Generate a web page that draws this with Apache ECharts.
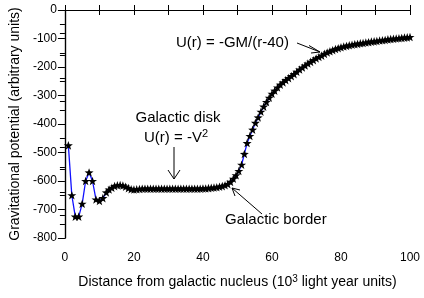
<!DOCTYPE html>
<html>
<head>
<meta charset="utf-8">
<script src="https://cdn.jsdelivr.net/npm/echarts@6/dist/echarts.min.js"></script>
<style>
html,body{margin:0;padding:0;background:#fff;}
#chart{width:424px;height:298px;}
</style>
</head>
<body>
<div id="chart"></div>
<script>
// distance from nucleus (10^3 ly) and potential
var distance = [1,2,3,4,5,6,7,8,9,10,11,
    12,12.8,13.6,14.4,15.2,16,16.8,17.6,18.4,19.2,20,20.8,21.6,22.4,23.2,24,24.8,25.6,26.4,27.2,
    28,28.8,29.6,30.4,31.2,32,32.8,33.6,34.4,35.2,36,36.8,37.6,38.4,39.2,40,40.8,41.6,42.4,43.2,
    44,44.8,45.6,46.4,47.2,48,48.8,49.6,50.4,51.2,52,52.8,53.6,54.4,55.2,56,56.8,57.6,58.4,59.2,
    60,60.8,61.6,62.4,63.2,64,64.8,65.6,66.4,67.2,68,68.8,69.6,70.4,71.2,72,72.8,73.6,74.4,75.2,
    76,76.8,77.6,78.4,79.2,80,80.8,81.6,82.4,83.2,84,84.8,85.6,86.4,87.2,88,88.8,89.6,90.4,91.2,
    92,92.8,93.6,94.4,95.2,96,96.8,97.6,98.4,99.2,100];
var potential = [-475,-650,-725,-725,-680,-600,-570,-600,-665,-670,-660,
    -640,-630,-624,-618,-615,-614,-616,-620,-625,-629,-630,-629,-628,-627,-627,-627,-627,-627,-627,-627,
    -627,-627,-627,-627,-627,-627,-627,-627,-627,-627,-627,-627,-627,-627,-627,-626,-626,-625,-624,-623,
    -622,-620,-618,-615,-611,-603,-592,-580,-565,-543,-505,-467,-442,-420,-396,-377,-357,-339,-323,-308,
    -294,-283,-272,-262,-254,-246,-239,-232,-225,-217,-209,-202,-195,-188,-182,-176,-170,-165,-160,-154,
    -149,-145,-141,-137,-134,-131,-128,-126,-124,-122,-120,-119,-117,-116,-114,-113,-111,-110,-109,-107,
    -106,-105,-103,-102,-101,-100,-99,-98,-97,-96,-95];

var chart = echarts.init(document.getElementById('chart'));
var font = 'Liberation Sans, Arial, sans-serif';
var black = '#000';
var star = 'path://M0,-10 L2.35,-3.24 L9.51,-3.09 L3.8,1.24 L5.88,8.09 L0,4 L-5.88,8.09 L-3.8,1.24 L-9.51,-3.09 L-2.35,-3.24 Z';

var points = distance.map(function (d, i) { return [d, potential[i]]; });

var line = { lineStyle: { color: black, width: 1.2 } };

option = {
    animation: false,
    grid: { left: 54, right: 14, top: 10, bottom: 60 },
    xAxis: [
        {
            type: 'value', min: 0, max: 100, interval: 10,
            name: 'Distance from galactic nucleus (10{sup|3} light year units)',
            nameLocation: 'middle', nameGap: 36,
            nameTextStyle: {
                fontFamily: font, fontSize: 14, color: black,
                rich: { sup: { fontFamily: font, fontSize: 10, color: black, verticalAlign: 'bottom', padding: [0, 0, 7, 0] } }
            },
            axisLine: line,
            axisTick: { inside: true, length: 5, lineStyle: { color: black } },
            axisLabel: {
                fontFamily: font, fontSize: 12, color: black, margin: 14,
                formatter: function (v) { return v % 20 === 0 ? v : ''; }
            },
            splitLine: { show: false }
        },
        {
            type: 'value', position: 'top', min: 0, max: 100, interval: 10,
            axisLine: line,
            axisTick: { inside: true, length: 5, lineStyle: { color: black } },
            axisLabel: { show: false },
            splitLine: { show: false }
        }
    ],
    yAxis: [
        {
            type: 'value', min: -800, max: 0, interval: 100,
            name: 'Gravitational potential (arbitrary units)',
            nameLocation: 'middle', nameGap: 34,
            nameTextStyle: { fontFamily: font, fontSize: 14, color: black },
            axisLine: line,
            axisTick: { inside: false, length: 7, lineStyle: { color: black } },
            minorTick: { show: true, splitNumber: 2, length: 5, lineStyle: { color: black } },
            axisLabel: { fontFamily: font, fontSize: 12, color: black, margin: 8 },
            splitLine: { show: false }
        },
        {
            type: 'value', position: 'right', min: -800, max: 0, interval: 80,
            axisLine: line,
            axisTick: { inside: true, length: 5, lineStyle: { color: black } },
            axisLabel: { show: false },
            splitLine: { show: false }
        }
    ],
    series: [
        {
            type: 'line',
            data: points,
            symbol: star,
            symbolSize: 9,
            symbolKeepAspect: true,
            showAllSymbol: true,
            itemStyle: { color: black, borderWidth: 0 },
            lineStyle: { color: '#1010ff', width: 1.3 }
        }
    ],
    graphic: [
        {
            type: 'text',
            style: { text: 'U(r) = -GM/(r-40)', x: 176, y: 43, font: '15px ' + font, fill: black, verticalAlign: 'middle' }
        },
        {
            type: 'polyline',
            shape: { points: [[297, 43], [320, 52]] },
            style: { stroke: black, lineWidth: 1, fill: null }
        },
        {
            type: 'polyline',
            shape: { points: [[309, 45.5], [320, 52], [311, 53]] },
            style: { stroke: black, lineWidth: 1, fill: null }
        },
        {
            type: 'text',
            style: { text: 'Galactic disk', x: 178, y: 118, font: '15px ' + font, fill: black, align: 'center', verticalAlign: 'middle' }
        },
        {
            type: 'text',
            style: {
                text: 'U(r) = -V{s|2}', x: 176, y: 138, font: '15px ' + font, fill: black,
                align: 'center', verticalAlign: 'middle',
                rich: { s: { font: '11px ' + font, fill: black, verticalAlign: 'bottom', padding: [0, 0, 8, 0] } }
            }
        },
        {
            type: 'polyline',
            shape: { points: [[174, 147], [174, 179]] },
            style: { stroke: black, lineWidth: 1, fill: null }
        },
        {
            type: 'polyline',
            shape: { points: [[168, 170], [174, 179], [180, 170]] },
            style: { stroke: black, lineWidth: 1, fill: null }
        },
        {
            type: 'text',
            style: { text: 'Galactic border', x: 225, y: 220, font: '15px ' + font, fill: black, verticalAlign: 'middle' }
        },
        {
            type: 'polyline',
            shape: { points: [[262, 214], [232, 188]] },
            style: { stroke: black, lineWidth: 1, fill: null }
        },
        {
            type: 'polyline',
            shape: { points: [[235, 196], [232, 188], [240, 190]] },
            style: { stroke: black, lineWidth: 1, fill: null }
        }
    ]
};
chart.setOption(option);
</script>
</body>
</html>
